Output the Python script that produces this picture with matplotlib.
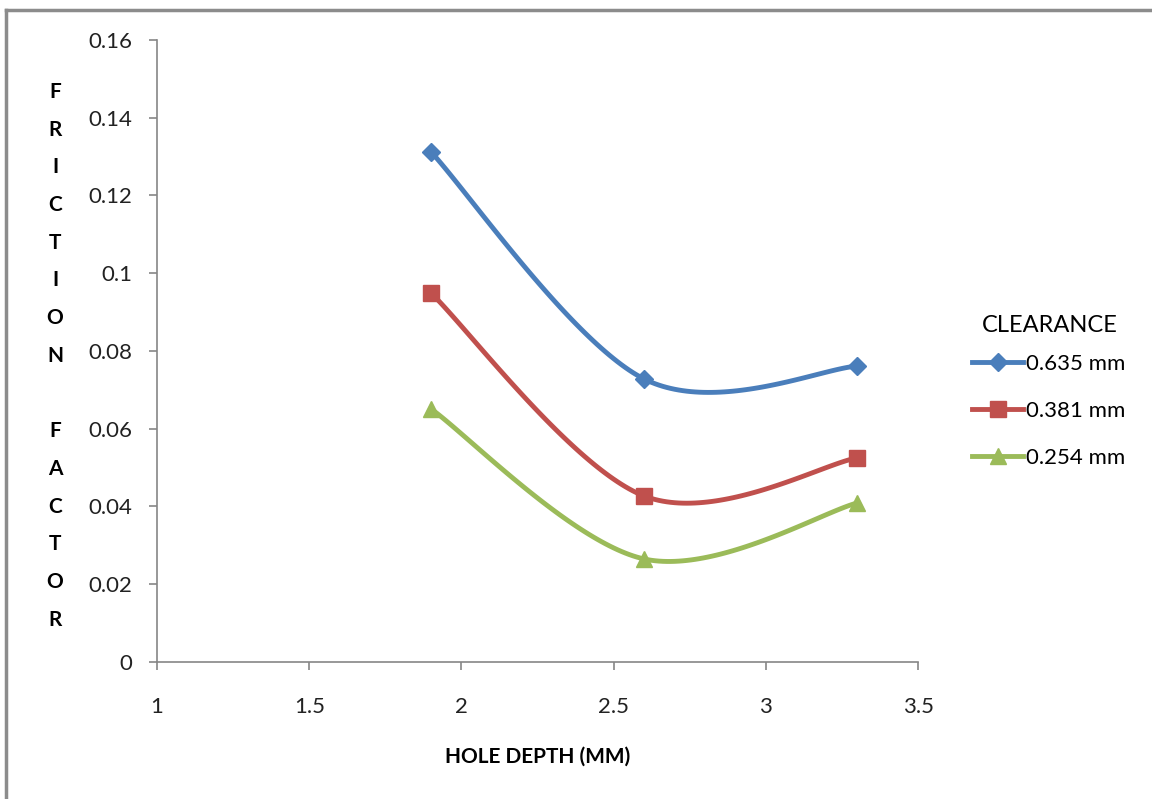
import numpy as np
import matplotlib.pyplot as plt
from matplotlib.lines import Line2D

plt.rcParams['font.family'] = ['Lato', 'DejaVu Sans']

# hole depth (mm) and friction factor for each clearance
depth = [1.9, 2.6, 3.3]
f_0635 = [0.1312, 0.0728, 0.0761]
f_0381 = [0.0949, 0.0427, 0.0525]
f_0254 = [0.0651, 0.0265, 0.0409]

series = [
    ('0.635 mm', f_0635, '#4A7EBB', 'D', 9),
    ('0.381 mm', f_0381, '#C0504D', 's', 11),
    ('0.254 mm', f_0254, '#9BBB59', '^', 11),
]

def smooth(x, y, n=60):
    # spreadsheet style smoothed line: cubic bezier with tangents (p[i+1]-p[i-1])/6
    p = np.column_stack([x, y]).astype(float)
    q = np.vstack([p[0], p, p[-1]])
    out = []
    for i in range(len(p) - 1):
        p0 = p[i]
        p3 = p[i + 1]
        c1 = p0 + (q[i + 2] - q[i]) / 6
        c2 = p3 - (q[i + 3] - q[i + 1]) / 6
        t = np.linspace(0, 1, n)[:, None]
        seg = ((1 - t) ** 3 * p0 + 3 * (1 - t) ** 2 * t * c1
               + 3 * (1 - t) * t ** 2 * c2 + t ** 3 * p3)
        out.append(seg if i == 0 else seg[1:])
    out = np.vstack(out)
    return out[:, 0], out[:, 1]

fig = plt.figure(figsize=(11.52, 7.99), dpi=100)
ax = fig.add_axes([0.1363, 0.1715, 0.6606, 0.7785])

handles = []
for label, vals, color, marker, ms in series:
    sx, sy = smooth(depth, vals)
    ax.plot(sx, sy, color=color, lw=3.5, solid_capstyle='round', zorder=2)
    ax.plot(depth, vals, linestyle='none', marker=marker, ms=ms,
            color=color, zorder=3)
    handles.append(Line2D([], [], color=color, lw=3.5, marker=marker,
                          ms=ms, label=label))

ax.set_xlim(1, 3.5)
ax.set_ylim(0, 0.16)
ax.set_xticks([1, 1.5, 2, 2.5, 3, 3.5])
ax.set_xticklabels(['1', '1.5', '2', '2.5', '3', '3.5'])
ax.set_yticks([0, 0.02, 0.04, 0.06, 0.08, 0.1, 0.12, 0.14, 0.16])
ax.set_yticklabels(['0', '0.02', '0.04', '0.06', '0.08', '0.1', '0.12', '0.14', '0.16'])

for side in ['top', 'right']:
    ax.spines[side].set_visible(False)
for side in ['left', 'bottom']:
    ax.spines[side].set_color('#868686')
    ax.spines[side].set_linewidth(1.2)
ax.tick_params(direction='out', length=6, width=1.2, color='#868686',
               labelsize=16, labelcolor='#222222')
ax.tick_params(axis='y', pad=11.5)
ax.tick_params(axis='x', pad=19)

fig.text(538 / 1152, 1 - 757 / 799, 'HOLE DEPTH (MM)', fontsize=15,
         fontweight='bold', ha='center', va='center')

# vertical stacked y label
letters = 'FRICTION FACTOR'
top_px, step_px = 92, 37.7
for i, ch in enumerate(letters):
    if ch == ' ':
        continue
    fig.text(55 / 1152, 1 - (top_px + i * step_px) / 799, ch,
             fontsize=15, fontweight='bold', ha='center', va='center')

fig.text(982 / 1152, 1 - 325 / 799, 'CLEARANCE', fontsize=17,
         ha='left', va='center')
fig.legend(handles=handles, loc='upper left',
           bbox_to_anchor=(952 / 1152, 1 - 334 / 799), frameon=False,
           fontsize=16, handlelength=2.3, handletextpad=0.15,
           labelspacing=1.22)

# outer frame
fig.add_artist(Line2D([6 / 1152, 1], [1 - 10 / 799, 1 - 10 / 799],
                      transform=fig.transFigure, color='#8c8c8c', lw=2.5))
fig.add_artist(Line2D([6 / 1152, 6 / 1152], [0, 1 - 10 / 799],
                      transform=fig.transFigure, color='#8c8c8c', lw=2.5))

fig.savefig('out.png', dpi=100)
